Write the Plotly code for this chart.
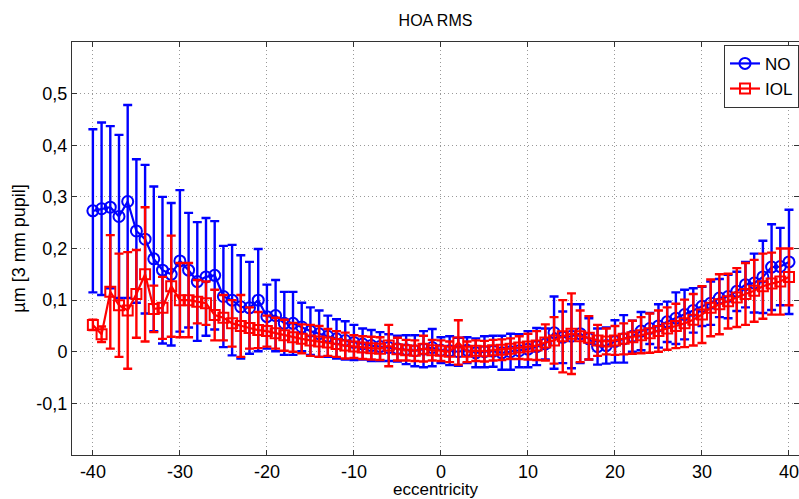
import plotly.graph_objects as go

ecc = list(range(-40, 41))

no_mean = [0.273, 0.277, 0.280, 0.262, 0.291, 0.234, 0.218, 0.180, 0.158, 0.150,
           0.176, 0.158, 0.136, 0.145, 0.148, 0.107, 0.100, 0.087, 0.085, 0.100,
           0.068, 0.070, 0.055, 0.055, 0.048, 0.040, 0.035, 0.030, 0.025, 0.022,
           0.018, 0.015, 0.012, 0.010, 0.008, 0.006, 0.004, 0.002, 0.005, 0.008,
           0.003, 0.002, 0.000, 0.003, -0.002, 0.000, 0.001, -0.002, 0.000, 0.002,
           0.005, 0.010, 0.015, 0.037, 0.028, 0.030, 0.035, 0.025, 0.010, 0.012,
           0.020, 0.025, 0.030, 0.040, 0.045, 0.050, 0.058, 0.065, 0.072, 0.080,
           0.088, 0.094, 0.104, 0.107, 0.117, 0.130, 0.133, 0.145, 0.164, 0.165,
           0.174]
no_err = [0.158, 0.167, 0.157, 0.158, 0.187, 0.139, 0.144, 0.140, 0.142, 0.138,
          0.137, 0.111, 0.115, 0.114, 0.105, 0.098, 0.107, 0.100, 0.089, 0.099,
          0.062, 0.069, 0.061, 0.061, 0.047, 0.046, 0.045, 0.040, 0.038, 0.037,
          0.034, 0.030, 0.030, 0.028, 0.026, 0.025, 0.028, 0.030, 0.035, 0.036,
          0.025, 0.028, 0.027, 0.025, 0.028, 0.030, 0.030, 0.033, 0.035, 0.032,
          0.035, 0.036, 0.030, 0.070, 0.050, 0.062, 0.057, 0.040, 0.035, 0.035,
          0.041, 0.046, 0.030, 0.037, 0.030, 0.042, 0.039, 0.050, 0.048, 0.043,
          0.038, 0.042, 0.037, 0.042, 0.038, 0.044, 0.057, 0.070, 0.083, 0.075,
          0.101]

iol_mean = [0.052, 0.034, 0.116, 0.090, 0.080, 0.112, 0.150, 0.083, 0.085, 0.127,
            0.100, 0.100, 0.097, 0.094, 0.071, 0.066, 0.055, 0.050, 0.046, 0.042,
            0.040, 0.036, 0.032, 0.028, 0.025, 0.022, 0.020, 0.018, 0.015, 0.012,
            0.010, 0.008, 0.007, 0.006, 0.012, 0.005, 0.003, 0.002, 0.006, 0.003,
            0.002, 0.000, 0.018, 0.000, 0.002, 0.001, 0.003, 0.004, 0.006, 0.008,
            0.010, 0.012, 0.018, 0.022, 0.030, 0.035, 0.030, 0.027, 0.022, 0.020,
            0.022, 0.025, 0.028, 0.032, 0.036, 0.040, 0.045, 0.050, 0.055, 0.062,
            0.072, 0.085, 0.092, 0.098, 0.105, 0.112, 0.118, 0.127, 0.132, 0.136,
            0.145]
iol_err = [0.010, 0.015, 0.110, 0.100, 0.113, 0.085, 0.130, 0.045, 0.060, 0.098,
           0.072, 0.072, 0.042, 0.042, 0.049, 0.044, 0.045, 0.060, 0.040, 0.035,
           0.030, 0.030, 0.030, 0.028, 0.028, 0.030, 0.030, 0.026, 0.025, 0.025,
           0.022, 0.022, 0.022, 0.022, 0.040, 0.022, 0.020, 0.020, 0.025, 0.020,
           0.020, 0.020, 0.043, 0.020, 0.020, 0.020, 0.020, 0.020, 0.020, 0.022,
           0.025, 0.028, 0.035, 0.045, 0.070, 0.078, 0.050, 0.042, 0.030, 0.025,
           0.028, 0.030, 0.032, 0.035, 0.038, 0.040, 0.041, 0.043, 0.046, 0.050,
           0.055, 0.055, 0.058, 0.053, 0.057, 0.060, 0.060, 0.063, 0.060, 0.064,
           0.055]

x_ticks = [-40, -30, -20, -10, 0, 10, 20, 30, 40]
y_ticks = [-0.1, 0, 0.1, 0.2, 0.3, 0.4, 0.5]
y_ticktext = ["-0,1", "0", "0,1", "0,2", "0,3", "0,4", "0,5"]

FONT = "Liberation Sans, Arial, sans-serif"

fig = go.Figure()
fig.add_trace(go.Scatter(
    x=ecc, y=no_mean, name="NO", mode="lines+markers",
    line=dict(color="#0000ff", width=2.2),
    marker=dict(symbol="circle-open", size=11, color="#0000ff", line=dict(width=2)),
    error_y=dict(type="data", array=no_err, visible=True, color="#0000ff",
                 thickness=2.4, width=4.5),
))
fig.add_trace(go.Scatter(
    x=ecc, y=iol_mean, name="IOL", mode="lines+markers",
    line=dict(color="#ff0000", width=2.2),
    marker=dict(symbol="square-open", size=10, color="#ff0000", line=dict(width=2)),
    error_y=dict(type="data", array=iol_err, visible=True, color="#ff0000",
                 thickness=2.4, width=4.5),
))

fig.update_layout(
    width=799, height=499,
    margin=dict(l=72, r=0, t=42, b=44),
    paper_bgcolor="white", plot_bgcolor="white",
    font=dict(family=FONT, size=17, color="black"),
    title=dict(text="HOA RMS", x=0.5, xref="paper", y=1 - 20 / 499, yref="container",
               xanchor="center", yanchor="middle", font=dict(size=16, color="black")),
    showlegend=True,
    legend=dict(x=1, y=0.993, xanchor="right", yanchor="top",
                bgcolor="white", bordercolor="#333333", borderwidth=1,
                font=dict(size=17), itemwidth=30, tracegroupgap=0),
)
fig.update_xaxes(
    range=[-42.4, 41.15], tickvals=x_ticks, ticktext=[str(v) for v in x_ticks],
    showgrid=True, gridcolor="#999999", griddash="1px,3px", gridwidth=1,
    showline=True, linecolor="#333333", linewidth=1, mirror="ticks",
    ticks="inside", ticklen=5, tickcolor="#333333", zeroline=False,
    title=dict(text="eccentricity", standoff=0, font=dict(size=17)),
    tickfont=dict(size=18), ticklabeloverflow="allow",
)
fig.update_yaxes(
    range=[-0.2, 0.6], tickvals=y_ticks, ticktext=y_ticktext,
    showgrid=True, gridcolor="#999999", griddash="1px,3px", gridwidth=1,
    showline=True, linecolor="#333333", linewidth=1, mirror="ticks",
    ticks="inside", ticklen=5, tickcolor="#333333", zeroline=False,
    title=dict(text="µm [3 mm pupil]", standoff=6, font=dict(size=18)),
    tickfont=dict(size=18),
)

fig.write_html("out.html", config={"displayModeBar": False},
               post_script="document.body.style.margin='0';document.body.style.overflow='hidden';")
